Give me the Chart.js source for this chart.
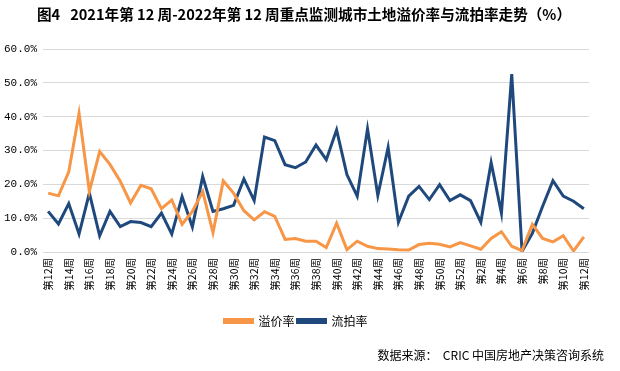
<!DOCTYPE html>
<html>
<head>
<meta charset="utf-8">
<script src="https://cdn.jsdelivr.net/npm/chart.js@4/dist/chart.umd.min.js"></script>
<style>
  html, body { margin: 0; padding: 0; background: #fff; }
  #wrap { width: 620px; height: 371px; position: relative; }
</style>
</head>
<body>
<div id="wrap"><canvas id="landChart" width="620" height="371"></canvas></div>
<script>
// weeks: 2021 w12..w52, then 2022 w1..w12
const weeks2021 = [];
for (let w = 12; w <= 52; w++) weeks2021.push('第' + w + '周');
const weeks2022 = [];
for (let w = 1; w <= 12; w++) weeks2022.push('第' + w + '周');
const weekLabels = weeks2021.concat(weeks2022);

// 溢价率 (%)
const premiumRate = [
  17.4, 16.6, 23.7, 41.0, 17.9, 29.7, 25.9, 20.9, 14.5, 19.7,
  18.7, 12.8, 15.4, 8.2, 12.0, 17.9, 5.7, 21.0, 17.4, 12.2,
  9.5, 11.9, 10.5, 3.7, 4.0, 3.2, 3.2, 1.3, 8.5, 0.7,
  3.2, 1.7, 1.0, 0.9, 0.7, 0.6, 2.2, 2.6, 2.3, 1.5,
  2.8, 1.8, 0.8, 4.0, 6.0, 1.7, 0.4, 8.2, 4.0, 3.0,
  4.8, 0.3, 4.5
];

// 流拍率 (%)
const failRate = [
  12.0, 8.3, 14.3, 5.3, 17.4, 4.8, 12.0, 7.5, 9.0, 8.7,
  7.5, 11.5, 5.3, 16.4, 7.4, 22.3, 12.0, 12.8, 13.8, 21.6,
  15.2, 34.0, 32.9, 25.8, 24.9, 26.6, 31.6, 27.3, 36.1, 22.9,
  16.5, 36.4, 16.7, 30.9, 8.8, 16.5, 19.4, 15.5, 19.9, 15.2,
  16.9, 15.2, 8.8, 26.4, 11.5, 52.6, 0.2, 5.5, 13.5, 21.1,
  16.5, 15.0, 12.8
];

const yTicks = [0, 10, 20, 30, 40, 50, 60];

const titleText = '图4\u00a0\u00a0\u00a02021年第 12 周-2022年第 12 周重点监测城市土地溢价率与流拍率走势（%）';
const sourceText = '数据来源：\u00a0\u00a0CRIC 中国房地产决策咨询系统';

const cjk = '"Noto Sans CJK SC", "Noto Sans", sans-serif';

const textPlugin = {
  id: 'extraText',
  afterDraw(chart) {
    const ctx = chart.ctx;
    ctx.save();
    ctx.fillStyle = '#000';
    ctx.textBaseline = 'middle';
    ctx.font = 'bold 14.6px ' + cjk;
    ctx.textAlign = 'center';
    ctx.fillText(titleText, 304, 14);
    ctx.font = '12px ' + cjk;
    ctx.textAlign = 'right';
    ctx.fillText(sourceText, 604, 355);
    ctx.restore();
  }
};

new Chart(document.getElementById('landChart').getContext('2d'), {
  type: 'line',
  data: {
    labels: weekLabels,
    datasets: [{
      label: '溢价率',
      data: premiumRate,
      borderColor: '#F79646',
      backgroundColor: '#F79646',
      borderWidth: 3,
      pointRadius: 0,
      tension: 0
    }, {
      label: '流拍率',
      data: failRate,
      borderColor: '#1F497D',
      backgroundColor: '#1F497D',
      borderWidth: 3,
      pointRadius: 0,
      tension: 0
    }]
  },
  options: {
    responsive: false,
    animation: false,
    layout: { padding: { top: 49, right: 31, bottom: 34, left: 3 } },
    plugins: {
      title: { display: false },
      tooltip: { enabled: false },
      legend: {
        position: 'bottom',
        labels: {
          boxWidth: 28,
          boxHeight: 3,
          padding: 3,
          color: '#000',
          font: { family: cjk, size: 12 }
        }
      }
    },
    scales: {
      x: {
        offset: true,
        grid: { display: false, drawTicks: false },
        border: { display: false },
        ticks: {
          autoSkip: false,
          maxRotation: 90,
          minRotation: 90,
          padding: 6,
          color: '#000',
          font: { family: cjk, size: 10.5 },
          callback: function (v, i) { return i % 2 === 0 ? weekLabels[i] : ''; }
        },
        afterFit: function (scale) { scale.height = 60; }
      },
      y: {
        min: 0,
        max: 60,
        afterBuildTicks: function (scale) { scale.ticks = yTicks.map(v => ({ value: v })); },
        grid: { color: '#d9d9d9', lineWidth: 1, drawTicks: false },
        border: { display: false },
        ticks: {
          padding: 6,
          color: '#000',
          font: { family: '"Liberation Mono", monospace', size: 11 },
          callback: function (v) { return v.toFixed(1) + '%'; }
        },
        afterFit: function (scale) { scale.width = 40; }
      }
    }
  },
  plugins: [textPlugin]
});
</script>
</body>
</html>
